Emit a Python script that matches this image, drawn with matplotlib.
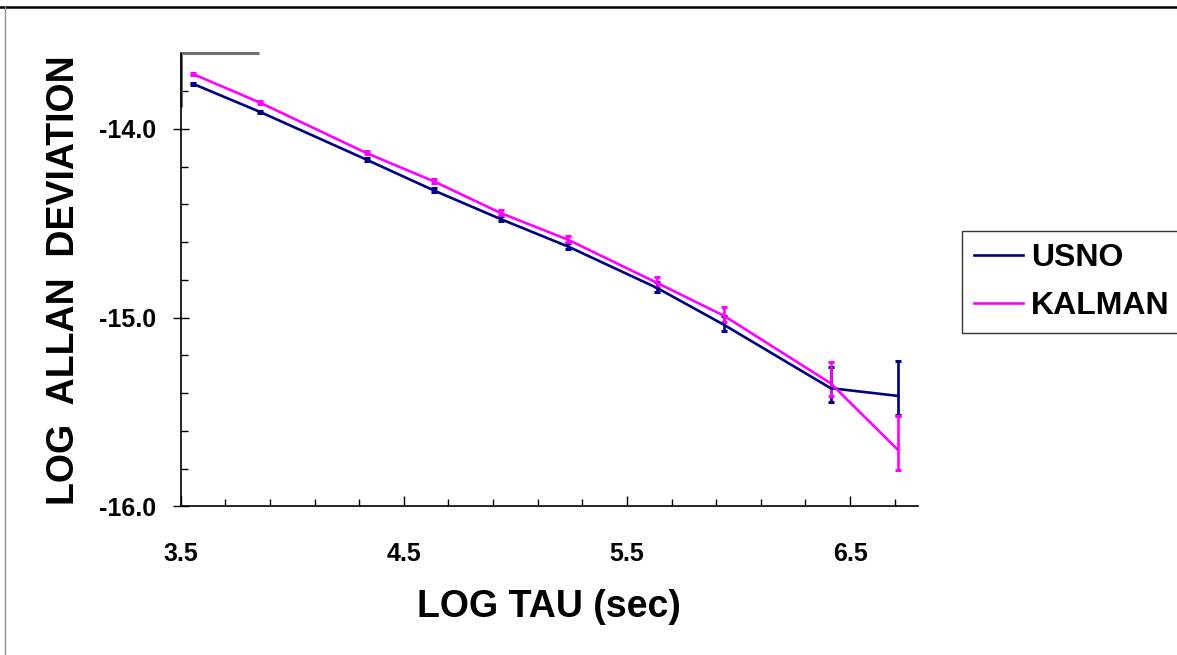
import matplotlib.pyplot as plt
from matplotlib.lines import Line2D

plt.rcParams['font.family'] = ['Liberation Sans', 'DejaVu Sans']
plt.rcParams['font.weight'] = 'bold'

# averaging times: 1h, 2h, 6h, 12h, 1d, 2d, 5d, 10d, 30d, 60d (log10 seconds)
log_tau = [3.556, 3.857, 4.334, 4.636, 4.936, 5.237, 5.635, 5.936, 6.413, 6.715]

usno = [-13.762, -13.911, -14.164, -14.327, -14.479, -14.624, -14.843, -15.039, -15.374, -15.415]
usno_lo = [0.004, 0.005, 0.007, 0.008, 0.010, 0.012, 0.020, 0.030, 0.072, 0.100]
usno_hi = [0.006, 0.008, 0.010, 0.012, 0.015, 0.018, 0.030, 0.045, 0.110, 0.184]

kalman = [-13.710, -13.862, -14.129, -14.279, -14.447, -14.588, -14.816, -14.991, -15.348, -15.701]
kalman_lo = [0.004, 0.005, 0.007, 0.008, 0.010, 0.012, 0.020, 0.030, 0.070, 0.106]
kalman_hi = [0.006, 0.008, 0.010, 0.012, 0.015, 0.018, 0.030, 0.045, 0.110, 0.180]

navy = '#000080'
magenta = '#ff00ff'

fig = plt.figure(figsize=(11.77, 6.55), dpi=100)
ax = fig.add_axes([0.1535, 0.227, 0.6265, 0.6916])

ax.errorbar(log_tau, usno, yerr=[usno_lo, usno_hi], color=navy, lw=1.9,
            elinewidth=1.9, capsize=2, capthick=2.2)
ax.errorbar(log_tau, kalman, yerr=[kalman_lo, kalman_hi], color=magenta, lw=1.9,
            elinewidth=1.9, capsize=2, capthick=2.2)

ax.set_xlim(3.5, 6.805)
ax.set_ylim(-16.0, -13.6)

ax.set_xticks([3.5, 4.5, 5.5, 6.5])
ax.set_xticks([3.5 + 0.2 * i for i in range(17)], minor=True)
ax.set_yticks([-16.0, -15.0, -14.0])
ax.set_yticks([-16.0 + 0.2 * i for i in range(13)], minor=True)
ax.set_xticklabels(['3.5', '4.5', '5.5', '6.5'], fontsize=18, fontweight='bold')
ax.set_yticklabels(['-16.0', '-15.0', '-14.0'], fontsize=18, fontweight='bold')

ax.tick_params(axis='x', which='major', direction='in', length=7, width=1, pad=26)
ax.tick_params(axis='x', which='minor', direction='in', length=5, width=1)
ax.tick_params(axis='y', which='major', direction='inout', length=12, width=1, pad=12)
ax.tick_params(axis='y', which='minor', direction='in', length=5, width=1)

for side in ['top', 'right']:
    ax.spines[side].set_visible(False)
for side in ['left', 'bottom']:
    ax.spines[side].set_linewidth(1.2)

# grey stub of the plot frame at the top left corner
ax.plot([0, 0], [0.881, 1.0], transform=ax.transAxes, color='#707070', lw=2.2,
        clip_on=False, solid_capstyle='butt')
ax.plot([0, 0.106], [1.0, 1.0], transform=ax.transAxes, color='#707070', lw=2.2,
        clip_on=False, solid_capstyle='butt')

ax.set_xlabel('LOG TAU (sec)', fontsize=27, fontweight='bold', labelpad=16)
ax.set_ylabel('LOG  ALLAN  DEVIATION', fontsize=27, fontweight='bold', labelpad=12)

handles = [Line2D([], [], color=navy, lw=1.9), Line2D([], [], color=magenta, lw=1.9)]
leg = fig.legend(handles, ['USNO', 'KALMAN'], loc='upper left',
                 bbox_to_anchor=(0.817, 0.647), bbox_transform=fig.transFigure,
                 borderaxespad=0, fancybox=False, frameon=True, handlelength=1.55,
                 handletextpad=0.25, borderpad=0.38, labelspacing=0.55,
                 prop={'size': 23, 'weight': 'bold'})
leg.get_frame().set_edgecolor('black')
leg.get_frame().set_linewidth(1.0)

# outer frame lines along the top and left of the figure
fig.add_artist(Line2D([0, 1], [0.989, 0.989], transform=fig.transFigure, color='black', lw=1.8))
fig.add_artist(Line2D([0.004, 0.004], [0, 0.989], transform=fig.transFigure, color='#909090', lw=1.0))

fig.savefig('out.png', dpi=100)
